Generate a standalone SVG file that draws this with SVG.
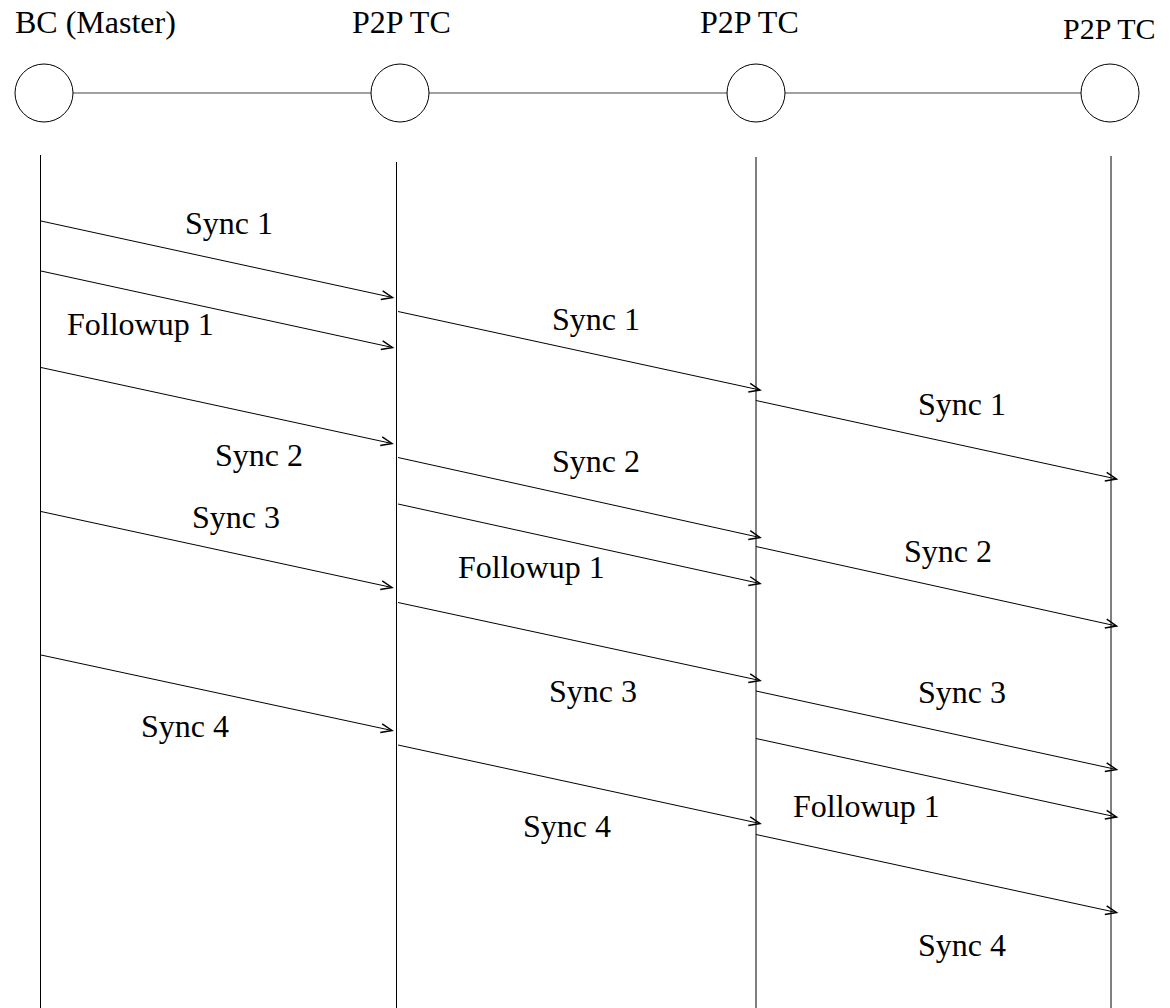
<svg xmlns="http://www.w3.org/2000/svg" width="1170" height="1008" viewBox="0 0 1170 1008">
<style>
text{font-family:"Liberation Serif","Times New Roman",serif;font-size:32px;fill:#000}
.node{fill:#fff;stroke:#000;stroke-width:1}
.life{stroke:#000;stroke-width:1;fill:none}
.msg{stroke:#000;stroke-width:1;fill:none;marker-end:url(#arr)}
.bus{stroke:#444;stroke-width:1.2;fill:none}
</style>
<defs>
<marker id="arr" markerUnits="userSpaceOnUse" markerWidth="16" markerHeight="14" viewBox="-13 -7 16 14" refX="0" refY="0" orient="auto">
<path d="M-11,-4.5 L0,0 L-11,4.5" fill="none" stroke="#000" stroke-width="1.5"/>
</marker>
</defs>
<rect width="1170" height="1008" fill="#fff"/>
<g id="connectors">
<line class="bus" x1="73" y1="93" x2="1081" y2="93"/>
<line class="life" x1="40.5" y1="155" x2="40.5" y2="1008"/>
<line class="life" x1="396.5" y1="162" x2="396.5" y2="1008"/>
<line class="life" x1="756" y1="157" x2="756" y2="1008"/>
<line class="life" x1="1111" y1="156" x2="1111" y2="1008"/>
<line class="msg" x1="41" y1="221" x2="392.5" y2="297.5"/>
<line class="msg" x1="41" y1="271" x2="392.5" y2="347.5"/>
<line class="msg" x1="41" y1="367.5" x2="392" y2="443.5"/>
<line class="msg" x1="41" y1="511.5" x2="392" y2="587.5"/>
<line class="msg" x1="41" y1="655" x2="392" y2="730.5"/>
<line class="msg" x1="398" y1="311.5" x2="760" y2="390"/>
<line class="msg" x1="398" y1="457.5" x2="760" y2="537.5"/>
<line class="msg" x1="398" y1="504" x2="760" y2="583.5"/>
<line class="msg" x1="398" y1="602.5" x2="760" y2="680.5"/>
<line class="msg" x1="398" y1="745" x2="760" y2="823.5"/>
<line class="msg" x1="756" y1="400.5" x2="1116.5" y2="479"/>
<line class="msg" x1="756" y1="546.5" x2="1116.5" y2="626"/>
<line class="msg" x1="756" y1="691" x2="1116.5" y2="769.5"/>
<line class="msg" x1="756" y1="738.5" x2="1116.5" y2="817"/>
<line class="msg" x1="756" y1="834.5" x2="1116.5" y2="912.5"/>
</g>
<g id="node-bc"><circle class="node" cx="44" cy="93" r="29"/><text x="15" y="33">BC (Master)</text></g>
<g id="node-tc1"><circle class="node" cx="400" cy="93" r="29"/><text x="352" y="33">P2P TC</text></g>
<g id="node-tc2"><circle class="node" cx="756" cy="93" r="29"/><text x="700" y="33">P2P TC</text></g>
<g id="node-tc3"><circle class="node" cx="1110" cy="93" r="29"/><text x="1063" y="39" style="font-size:30px">P2P TC</text></g>
<g id="labels">
<text x="185" y="234">Sync 1</text>
<text x="67" y="335">Followup 1</text>
<text x="215" y="466">Sync 2</text>
<text x="192" y="528">Sync 3</text>
<text x="141" y="737">Sync 4</text>
<text x="552" y="330">Sync 1</text>
<text x="552" y="472">Sync 2</text>
<text x="458" y="578">Followup 1</text>
<text x="549" y="702">Sync 3</text>
<text x="523" y="837">Sync 4</text>
<text x="918" y="415">Sync 1</text>
<text x="904" y="562">Sync 2</text>
<text x="918" y="703">Sync 3</text>
<text x="793" y="817">Followup 1</text>
<text x="918" y="956">Sync 4</text>
</g>
</svg>
